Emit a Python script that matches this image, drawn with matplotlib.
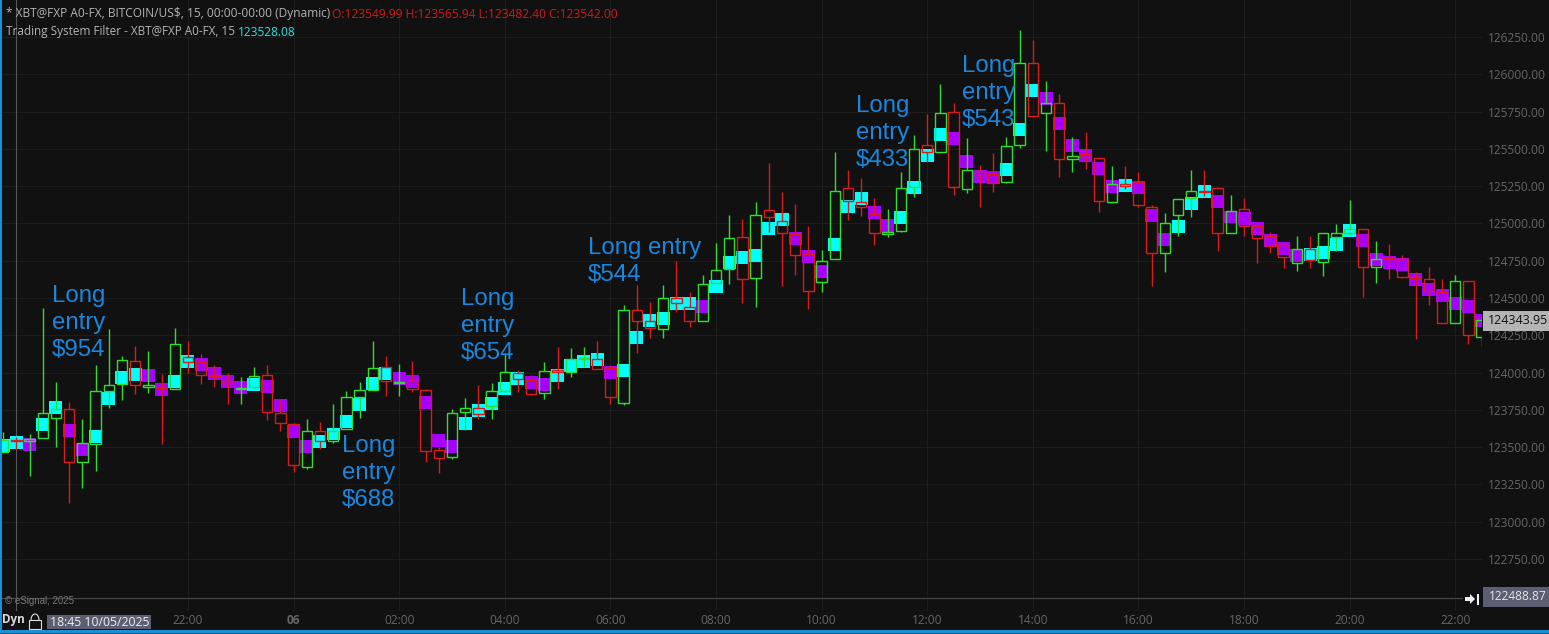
#!python
# coding: utf-8
# XBT 15 min candles with the trading system filter blocks on top
import matplotlib
matplotlib.use('Agg')
import matplotlib.pyplot as plt
from matplotlib.patches import Rectangle, Polygon, Arc
from matplotlib.transforms import Affine2D

# one entry per 15 min bar, first bar is 18:30
bar_high = [
    123600, 123566, 123588, 124431, 123935, 123801, 123687, 124049, 124290, 124111,
    124178, 124145, 123991, 124297, 124212, 124125, 124051, 123995, 123968, 124035,
    124051, 123816, 123660, 123689, 123667, 123787, 123877, 123935, 124212, 124111,
    124058, 124078, 123888, 123503, 123754, 123827, 123914, 123928, 124125, 124017,
    123982, 124071, 124172, 124165, 124174, 124212, 124049, 124451, 124585, 124473,
    124587, 124746, 124540, 124652, 124867, 125057, 125028, 125142, 125403, 125209,
    125130, 124983, 124822, 125477, 125358, 125302, 125168, 125095, 125343, 125591,
    125734, 125933, 125805, 125571, 125392, 125470, 125577, 126297, 126230, 125955,
    125866, 125577, 125611, 125439, 125385, 125385, 125342, 125121, 125067, 125166,
    125358, 125358, 125242, 125188, 125168, 125000, 124940, 124866, 124915, 124915,
    124933, 124996, 125157, 124960, 124880, 124862, 124786, 124676, 124710, 124625,
    124652, 124614, 124374]
body_top = [
    123548, 123550, 123553, 123727, 123756, 123754, 123526, 123874, 123915, 124082,
    124076, 123915, 123904, 124190, 124102, 124071, 123986, 123944, 123895, 123980,
    123982, 123727, 123658, 123611, 123611, 123611, 123834, 123881, 124029, 124040,
    123939, 123946, 123881, 123479, 123727, 123760, 123760, 123874, 124002, 123999,
    123950, 124008, 124015, 124089, 124096, 124089, 124033, 124417, 124417, 124344,
    124498, 124500, 124442, 124592, 124686, 124900, 124907, 125054, 125088, 125016,
    124927, 124795, 124750, 125215, 125235, 125142, 125061, 124943, 125235, 125501,
    125528, 125743, 125745, 125356, 125354, 125331, 125517, 126073, 126073, 125805,
    125805, 125450, 125466, 125437, 125262, 125262, 125280, 125112, 125000, 125161,
    125215, 125217, 125235, 125085, 125099, 124980, 124915, 124855, 124826, 124828,
    124933, 124933, 124965, 124960, 124763, 124768, 124763, 124643, 124625, 124538,
    124611, 124614, 124352]
body_bot = [
    123470, 123542, 123544, 123559, 123693, 123398, 123398, 123519, 123879, 123921,
    123915, 123906, 123895, 123890, 124069, 123986, 123977, 123933, 123888, 123901,
    123734, 123664, 123378, 123369, 123539, 123539, 123620, 123839, 123883, 123946,
    123932, 123890, 123476, 123429, 123436, 123733, 123720, 123778, 123876, 123955,
    123859, 123861, 124006, 124006, 124089, 124022, 123838, 123794, 124348, 124301,
    124294, 124469, 124348, 124348, 124598, 124692, 124625, 124632, 125045, 124934,
    124791, 124545, 124605, 124759, 125153, 125108, 124934, 124931, 124947, 125244,
    125477, 125477, 125242, 125233, 125323, 125273, 125280, 125524, 125723, 125738,
    125430, 125430, 125445, 125148, 125146, 125253, 125121, 124799, 124799, 125058,
    125172, 125208, 124933, 124933, 124980, 124904, 124848, 124772, 124732, 124754,
    124739, 124911, 124938, 124705, 124705, 124759, 124643, 124634, 124544, 124330,
    124330, 124249, 124236]
bar_low = [
    123463, 123482, 123309, 123559, 123503, 123123, 123229, 123343, 123765, 123816,
    123857, 123866, 123519, 123890, 124000, 123924, 123906, 123790, 123790, 123901,
    123682, 123611, 123336, 123356, 123488, 123530, 123620, 123698, 123883, 123843,
    123845, 123868, 123403, 123329, 123423, 123615, 123691, 123691, 123861, 123870,
    123850, 123825, 123888, 123973, 124035, 124022, 123792, 123785, 124134, 124232,
    124232, 124408, 124306, 124348, 124598, 124594, 124469, 124437, 124945, 124583,
    124654, 124424, 124543, 124759, 125023, 125050, 124855, 124911, 124940, 125179,
    125414, 125477, 125191, 125202, 125112, 125213, 125273, 125508, 125711, 125488,
    125314, 125345, 125365, 125077, 125137, 125231, 125112, 124582, 124676, 124918,
    125045, 125186, 124817, 124933, 124918, 124737, 124804, 124703, 124683, 124703,
    124649, 124815, 124922, 124509, 124602, 124629, 124636, 124227, 124455, 124330,
    124330, 124193, 124180]
filter_val = [
    123508, 123528, 123517, 123653, 123767, 123613, 123483, 123573, 123828, 123966,
    123986, 123982, 123888, 123939, 124076, 124055, 123995, 123942, 123901, 123921,
    123908, 123781, 123606, 123506, 123539, 123588, 123671, 123787, 123924, 123991,
    123961, 123941, 123801, 123546, 123505, 123660, 123747, 123794, 123890, 123961,
    123935, 123921, 123982, 124044, 124073, 124089, 124002, 124015, 124236, 124350,
    124361, 124464, 124464, 124444, 124578, 124735, 124773, 124786, 124967, 125028,
    124900, 124779, 124679, 124860, 125115, 125168, 125074, 124985, 125041, 125242,
    125457, 125597, 125571, 125416, 125316, 125309, 125363, 125631, 125892, 125839,
    125671, 125524, 125457, 125369, 125249, 125255, 125242, 125054, 124893, 124980,
    125132, 125215, 125148, 125043, 125032, 124965, 124886, 124833, 124788, 124790,
    124804, 124857, 124953, 124886, 124759, 124739, 124723, 124625, 124558, 124518,
    124464, 124444, 124350]
# G up candle, R down candle
candle_dir = list('GRGGGRGGGGRGRGRRRRGGRRRGRGGGGRGRRRGGRGGRRGRGGRRGRRGRRGGGRGRRRRGGRRRGGGRGRGRRGGRGRGRRGRRRGGGRRGRRRRGRGGGRGRRRRRGRG')
# C cyan filter block, P purple filter block
filter_dir = list('CCPCCPPCCCCPPCCPPPPCPPPPCCCCCCPPPPPCCCCCPPCCCCPCCCCCCPCCCCCCPPPCCCPPCCCCPPPPCCCPPPPPPCPPPCCCPPPPPPPCCCCPPPPPPPPPP')

price_ticks = [122750, 123000, 123250, 123500, 123750, 124000, 124250, 124500,
               124750, 125000, 125250, 125500, 125750, 126000, 126250]
time_ticks = [14, 22, 30, 38, 46, 54, 62, 70, 78, 86, 94, 102, 110]
time_labels = ['22:00', '06', '02:00', '04:00', '06:00', '08:00', '10:00',
               '12:00', '14:00', '16:00', '18:00', '20:00', '22:00']
cursor_bar = 1
last_price = '124343.95'
bottom_price = '122488.87'

BG = '#111112'
GRID = '#1D1D1D'
GREEN = '#2EE02E'
RED = '#DC1A1A'
CYAN = '#00FFFF'
PURPLE = '#A800FF'
LABEL = '#666666'
BLUE = '#1A86DE'
SLATE = '#5C5F72'

W, H = 1549, 634
FONT = 'Open Sans'

fig = plt.figure(figsize=(W / 100, H / 100), dpi=100, facecolor=BG)
# pixel coords from top left, for the decorations round the chart
px = Affine2D().scale(1, -1).translate(0, H)


def ftext(x, y, s, **kw):
    kw.setdefault('family', FONT)
    kw.setdefault('va', 'center')
    return fig.text(x / W, 1 - y / H, s, **kw)


def fbox(x, y, w, h, color, zorder=4):
    fig.add_artist(Rectangle((x, y), w, h, transform=px, facecolor=color,
                             edgecolor='none', zorder=zorder))


ax = fig.add_axes([0, 1 - 597 / H, 1482 / W, 597 / H], facecolor=BG)
ax.set_xlim(-0.242, 112.03)
ax.set_ylim(122495, 126498)

n = len(bar_high)
xs = list(range(n))

ax.bar(xs, [87] * n, bottom=[f - 43.5 for f in filter_val], width=0.985,
       color=[CYAN if d == 'C' else PURPLE for d in filter_dir], linewidth=0, zorder=2)

colors = [GREEN if d == 'G' else RED for d in candle_dir]
ax.vlines(xs, body_top, bar_high, colors=colors, linewidth=1.0, zorder=3)
ax.vlines(xs, bar_low, body_bot, colors=colors, linewidth=1.0, zorder=3)
ax.bar(xs, [t - b for t, b in zip(body_top, body_bot)], bottom=body_bot, width=0.8,
       fill=False, edgecolor=colors, linewidth=1.0, zorder=3)

ax.set_yticks(price_ticks)
ax.set_yticklabels(['%.2f' % p for p in price_ticks])
ax.yaxis.tick_right()
ax.set_xticks(time_ticks)
ax.set_xticklabels(time_labels)
ax.grid(True, color=GRID, linewidth=0.8, zorder=0)
ax.set_axisbelow(True)
ax.tick_params(axis='y', length=0, pad=4.3, labelcolor=LABEL, labelsize=8.6)
ax.tick_params(axis='x', length=9.4, width=0.8, color=GRID, pad=2.5,
               labelcolor=LABEL, labelsize=8.6)
for lab in ax.get_xticklabels() + ax.get_yticklabels():
    lab.set_family(FONT)
ax.get_xticklabels()[1].set_weight('bold')
for s in ax.spines.values():
    s.set_visible(False)

# cursor line at the 18:45 bar
ax.axvline(cursor_bar, ymin=-13 / 597, ymax=1, color='#565656', linewidth=0.8,
           clip_on=False, zorder=1)

# header
ftext(6, 14, '* XBT@FXP A0-FX, BITCOIN/US$, 15, 00:00-00:00 (Dynamic)', color='#B4B4B4', fontsize=8.55)
ftext(332, 14, 'O:123549.99 H:123565.94 L:123482.40 C:123542.00', color='#D81616', fontsize=8.68)
ftext(6, 32, 'Trading System Filter - XBT@FXP A0-FX, 15', color='#B4B4B4', fontsize=8.45)
ftext(238, 32, '123528.08', color='#22E8E0', fontsize=8.55)

# entry notes
for x, y, s in [(52, 323, 'Long\nentry\n$954'), (342, 473, 'Long\nentry\n$688'),
                (461, 326, 'Long\nentry\n$654'), (588, 261.5, 'Long entry\n$544'),
                (856, 133, 'Long\nentry\n$433'), (962, 93, 'Long\nentry\n$543')]:
    ftext(x, y, s, color=BLUE, fontsize=17.3, family='Liberation Sans', linespacing=1.3)

# price boxes
fbox(1483, 311, 66, 20, '#B4B4B4')
ftext(1488, 321, last_price, color='#111111', fontsize=9, zorder=5)
fig.add_artist(plt.Line2D([0, 1462], [597.5, 597.5], transform=px, color='#444444', linewidth=0.9, zorder=1))
fbox(1483, 587, 66, 20, SLATE)
ftext(1489, 597, bottom_price, color='#E6E6E6', fontsize=8.6, zorder=5)
fig.add_artist(Polygon([(1465, 597), (1470, 597), (1470, 594), (1475, 599), (1470, 604), (1470, 601), (1465, 601)],
                       transform=px, facecolor='#F0F0F0', edgecolor='none', zorder=5))
fbox(1477, 594, 1.5, 11, '#F0F0F0', zorder=5)

# bottom strip
ftext(5, 601, '\u00a9 eSignal, 2025', color='#787878', fontsize=7, family='Liberation Sans')
ftext(2, 620, 'Dyn', color='#DDDDDD', fontsize=8.4, fontweight='bold')
fig.add_artist(Rectangle((29, 620), 12, 9, transform=px, facecolor=BG, edgecolor='#DDDDDD', linewidth=0.8, zorder=5))
fig.add_artist(Arc((35, 620), 8, 12, theta1=180, theta2=360, transform=px, edgecolor='#DDDDDD', linewidth=0.8, zorder=5))
fbox(47, 615, 104, 14, SLATE)
ftext(50, 622, '18:45 10/05/2025', color='#F0F0F0', fontsize=8.8, zorder=5)
fbox(0, 630, W, 2.5, '#1A90D8', zorder=6)
fbox(0, 632.5, W, 1.5, '#4A4A4A', zorder=6)
fbox(0, 0, 1.5, 630, '#1A90D8', zorder=6)

fig.savefig('out.png', dpi=100, facecolor=BG)
